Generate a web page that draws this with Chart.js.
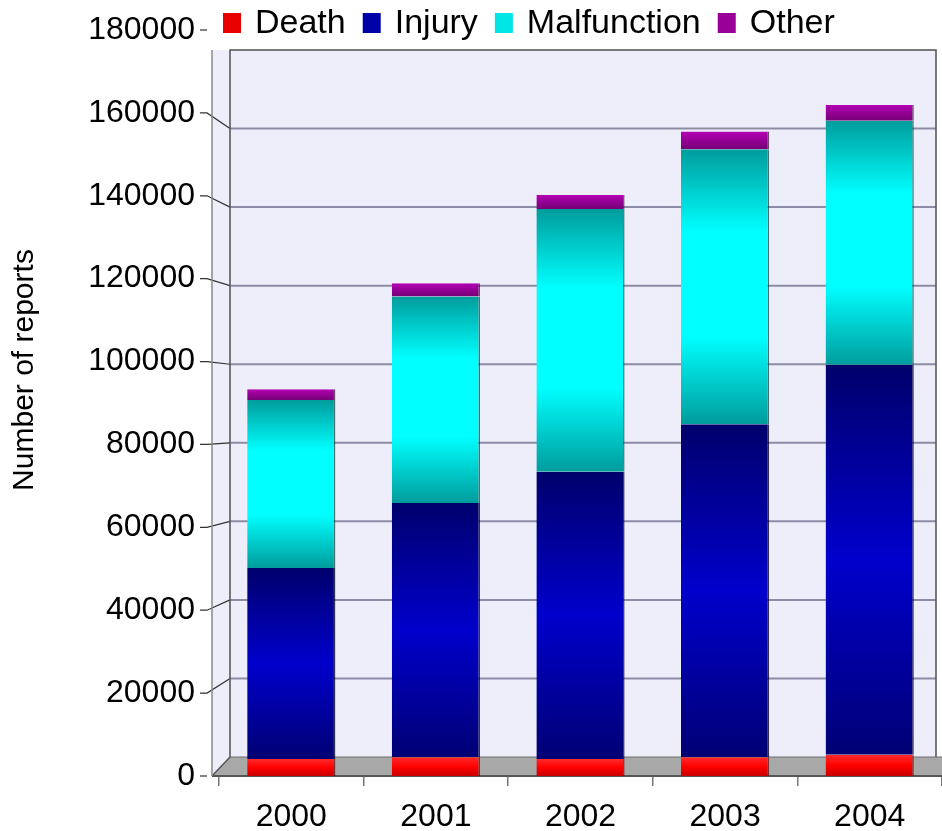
<!DOCTYPE html>
<html>
<head>
<meta charset="utf-8">
<title>Number of reports</title>
<script src="https://cdn.jsdelivr.net/npm/chart.js@4.4.0/dist/chart.umd.min.js"></script>
<style>
  html, body { margin: 0; padding: 0; background: #fff; overflow: hidden; }
  #chart { display: block; }
</style>
</head>
<body>
<canvas id="chart" width="942" height="831"></canvas>
<script>
// values
const years = ['2000', '2001', '2002', '2003', '2004'];
const death = [4100, 4500, 4100, 4500, 5100];
const injury = [46100, 61400, 69300, 80400, 94100];
const malfunction = [40500, 49800, 63400, 66300, 58900];
const other = [2600, 3200, 3400, 4300, 3800];
const yMax = 180000;
const yStep = 20000;

const FONT = '"Liberation Sans", Arial, sans-serif';
const legendColors = ['#e80000', '#0000a8', '#00e6e6', '#980098'];

// vertical gradient for one stacked segment (dark ends, bright middle)
function shade(stops) {
    return function (c) {
        const chart = c.chart;
        const { ctx, chartArea, scales } = chart;
        if (!chartArea || c.dataIndex === undefined) return stops[1][1];
        let base = 0;
        for (let d = 0; d < c.datasetIndex; d++) base += chart.data.datasets[d].data[c.dataIndex];
        const y0 = scales.y.getPixelForValue(base);
        const y1 = scales.y.getPixelForValue(base + c.raw);
        if (!isFinite(y0) || !isFinite(y1) || y0 === y1) return stops[1][1];
        const g = ctx.createLinearGradient(0, y1, 0, y0);
        stops.forEach(s => g.addColorStop(s[0], s[1]));
        return g;
    };
}

// 3D-ish walls, floor and slanted grid like the original
const box3d = {
    id: 'box3d',
    beforeDatasetsDraw(chart) {
        const { ctx, chartArea: a, scales: { y } } = chart;
        const front = a.left - 7, back = a.left + 11, right = a.right - 6;
        const wallTop = a.top + 20, floorBack = a.bottom - 19;
        const k = (floorBack - wallTop) / (a.bottom - a.top);
        ctx.save();
        ctx.fillStyle = '#eeeefb';
        ctx.beginPath();
        ctx.moveTo(front, wallTop); ctx.lineTo(back, wallTop);
        ctx.lineTo(back, floorBack); ctx.lineTo(front, a.bottom);
        ctx.closePath(); ctx.fill();
        ctx.fillRect(back, wallTop, right - back, floorBack - wallTop);

        y.ticks.forEach(t => {
            const py = y.getPixelForValue(t.value);
            const wy = floorBack - (a.bottom - py) * k;
            ctx.strokeStyle = '#333';
            ctx.lineWidth = 1.2;
            ctx.beginPath();
            ctx.moveTo(a.left - 19, py); ctx.lineTo(a.left - 12, py);
            if (t.value > 0 && t.value < yMax) ctx.lineTo(back, wy);
            ctx.stroke();
            if (t.value > 0 && t.value < yMax) {
                ctx.strokeStyle = '#8c8ca4';
                ctx.lineWidth = 2;
                ctx.beginPath();
                ctx.moveTo(back, wy); ctx.lineTo(right, wy);
                ctx.stroke();
            }
        });

        // floor
        ctx.fillStyle = '#a8a8a8';
        ctx.beginPath();
        ctx.moveTo(front, a.bottom); ctx.lineTo(back, floorBack);
        ctx.lineTo(a.right, floorBack); ctx.lineTo(a.right, a.bottom);
        ctx.closePath(); ctx.fill();
        ctx.strokeStyle = '#6e6e6e'; ctx.lineWidth = 1;
        ctx.beginPath(); ctx.moveTo(back, floorBack); ctx.lineTo(a.right, floorBack); ctx.stroke();
        ctx.strokeStyle = '#555'; ctx.lineWidth = 2;
        ctx.beginPath(); ctx.moveTo(front, a.bottom); ctx.lineTo(a.right, a.bottom); ctx.stroke();
        ctx.lineWidth = 1.5;
        ctx.beginPath(); ctx.moveTo(front, a.bottom); ctx.lineTo(back, floorBack); ctx.stroke();

        // wall edges
        ctx.strokeStyle = '#8a8a8a'; ctx.lineWidth = 1.5;
        ctx.beginPath(); ctx.moveTo(front, wallTop); ctx.lineTo(front, a.bottom); ctx.stroke();
        ctx.strokeStyle = '#505050';
        ctx.beginPath();
        ctx.moveTo(back, floorBack); ctx.lineTo(back, wallTop); ctx.lineTo(right, wallTop); ctx.lineTo(right, floorBack);
        ctx.stroke();
        ctx.restore();
    },
    afterDraw(chart) {
        const { ctx, chartArea: a } = chart;
        ctx.save();
        // legend row
        ctx.font = '34px ' + FONT;
        ctx.textBaseline = 'middle';
        ctx.textAlign = 'left';
        let x = a.left + 4;
        const cy = a.top - 7;
        chart.data.datasets.forEach((ds, i) => {
            ctx.fillStyle = legendColors[i];
            ctx.fillRect(x, cy - 10, 18, 20);
            x += 18 + 14;
            ctx.fillStyle = '#000';
            ctx.fillText(ds.label, x, cy + 1);
            x += ctx.measureText(ds.label).width + 17;
        });
        // axis title
        ctx.translate(25, (a.top + a.bottom) / 2 - 33);
        ctx.rotate(-Math.PI / 2);
        ctx.font = '30px ' + FONT;
        ctx.textAlign = 'center';
        ctx.fillStyle = '#000';
        ctx.fillText('Number of reports', 0, 0);
        ctx.restore();
    }
};

const edge = { top: 0, right: 1.5, bottom: 0, left: 0 };

const myChart = new Chart(document.getElementById('chart'), {
    type: 'bar',
    data: {
        labels: years,
        datasets: [{
            label: 'Death',
            data: death,
            backgroundColor: shade([[0, '#ff2a2a'], [0.5, '#ff0000'], [1, '#c80000']]),
            borderColor: 'rgba(90,0,0,0.7)',
            borderWidth: edge
        }, {
            label: 'Injury',
            data: injury,
            backgroundColor: shade([[0, '#00006c'], [0.5, '#0000cc'], [1, '#000074']]),
            borderColor: 'rgba(0,0,40,0.8)',
            borderWidth: edge
        }, {
            label: 'Malfunction',
            data: malfunction,
            backgroundColor: shade([[0, '#009c9c'], [0.3, '#00ffff'], [0.68, '#00ffff'], [1, '#009c9c']]),
            borderColor: 'rgba(0,60,60,0.7)',
            borderWidth: edge
        }, {
            label: 'Other',
            data: other,
            backgroundColor: shade([[0, '#b400b4'], [1, '#740074']]),
            borderColor: 'rgba(50,0,50,0.7)',
            borderWidth: edge
        }]
    },
    options: {
        responsive: false,
        animation: false,
        layout: { padding: { top: 30, right: 0, bottom: 0, left: 0 } },
        categoryPercentage: 1,
        barPercentage: 0.61,
        plugins: {
            legend: { display: false },
            tooltip: { enabled: false }
        },
        scales: {
            x: {
                stacked: true,
                border: { display: false },
                grid: { drawOnChartArea: false, drawTicks: true, tickLength: 10, color: '#777', lineWidth: 1.5 },
                ticks: { color: '#000', padding: 12, font: { size: 32, family: FONT } },
                afterFit: s => { s.height = 55; }
            },
            y: {
                stacked: true,
                min: 0,
                max: yMax,
                border: { display: false },
                grid: { display: false, drawTicks: true, tickLength: 20 },
                ticks: {
                    stepSize: yStep, color: '#000', padding: 4, font: { size: 32, family: FONT },
                    callback: v => String(v)
                },
                afterFit: s => { s.width = 219; }
            }
        }
    },
    plugins: [box3d]
});
</script>
</body>
</html>
